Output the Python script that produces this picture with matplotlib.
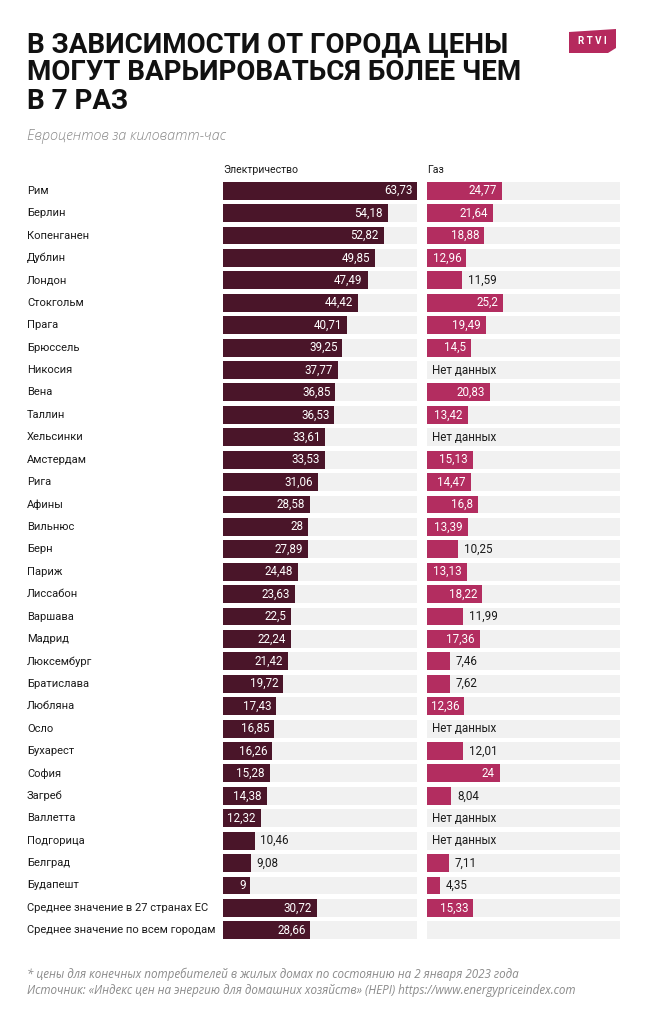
import numpy as np
import matplotlib
matplotlib.use("Agg")
import matplotlib.pyplot as plt
from matplotlib.patches import Polygon
from matplotlib.transforms import blended_transform_factory

# Data (euro cents per kWh)
cities = [
    "Рим", "Берлин", "Копенганен", "Дублин", "Лондон", "Стокгольм", "Прага",
    "Брюссель", "Никосия", "Вена", "Таллин", "Хельсинки", "Амстердам", "Рига",
    "Афины", "Вильнюс", "Берн", "Париж", "Лиссабон", "Варшава", "Мадрид",
    "Люксембург", "Братислава", "Любляна", "Осло", "Бухарест", "София",
    "Загреб", "Валлетта", "Подгорица", "Белград", "Будапешт",
    "Среднее значение в 27 странах ЕС", "Среднее значение по всем городам",
]
electricity = [
    63.73, 54.18, 52.82, 49.85, 47.49, 44.42, 40.71, 39.25, 37.77, 36.85,
    36.53, 33.61, 33.53, 31.06, 28.58, 28, 27.89, 24.48, 23.63, 22.5, 22.24,
    21.42, 19.72, 17.43, 16.85, 16.26, 15.28, 14.38, 12.32, 10.46, 9.08, 9,
    30.72, 28.66,
]
gas = [
    24.77, 21.64, 18.88, 12.96, 11.59, 25.2, 19.49, 14.5, None, 20.83,
    13.42, None, 15.13, 14.47, 16.8, 13.39, 10.25, 13.13, 18.22, 11.99, 17.36,
    7.46, 7.62, 12.36, None, 12.01, 24, 8.04, None, None, 7.11, 4.35,
    15.33, None,
]
no_gas_text_rows = ["Среднее значение по всем городам"]
elec_label_outside = ["Подгорица", "Белград"]
gas_inside_min = 12.3

title = "В ЗАВИСИМОСТИ ОТ ГОРОДА ЦЕНЫ\nМОГУТ ВАРЬИРОВАТЬСЯ БОЛЕЕ ЧЕМ\nВ 7 РАЗ"
subtitle = "Евроцентов за киловатт-час"
footer = ("* цены для конечных потребителей в жилых домах по состоянию на 2 января 2023 года\n"
          "Источник: «Индекс цен на энергию для домашних хозяйств» (HEPI) https://www.energypriceindex.com")

ELEC_COLOR = "#4a1529"
GAS_COLOR = "#b32d60"
BG_COLOR = "#f1f1f1"
TEXT_COLOR = "#1a1a1a"

W, H = 654, 1024
fig = plt.figure(figsize=(W / 100, H / 100), dpi=100)
fig.patch.set_facecolor("white")


def px_axes(x0, y0, x1, y1):
    return fig.add_axes([x0 / W, 1 - y1 / H, (x1 - x0) / W, (y1 - y0) / H])


n = len(cities)
row_top, row_bot = 179.5, 941.5
ax_e = px_axes(223, row_top, 417, row_bot)
ax_g = px_axes(427, row_top, 620, row_bot)
xmax = max(electricity)
y = np.arange(n)

for ax in (ax_e, ax_g):
    ax.set_xlim(0, xmax)
    ax.set_ylim(n - 0.5, -0.5)
    ax.axis("off")
    ax.barh(y, [xmax] * n, height=0.8, color=BG_COLOR, zorder=1)

ax_e.barh(y, electricity, height=0.8, color=ELEC_COLOR, zorder=2)
gas_vals = [v if v is not None else 0 for v in gas]
ax_g.barh(y, gas_vals, height=0.8, color=GAS_COLOR, zorder=2)


def fmt(v):
    return f"{v:g}".replace(".", ",")


lab_font = dict(family=["Roboto", "DejaVu Sans"], fontsize=8)
val_font = dict(family=["Roboto", "DejaVu Sans"], fontsize=8.4)

for i, (city, v) in enumerate(zip(cities, electricity)):
    if city in elec_label_outside:
        ax_e.annotate(fmt(v), (v, i), xytext=(4, 0), textcoords="offset points",
                      ha="left", va="center", color=TEXT_COLOR, zorder=3, **val_font)
    else:
        ax_e.annotate(fmt(v), (v, i), xytext=(-3.5, 0), textcoords="offset points",
                      ha="right", va="center", color="white", zorder=3, **val_font)

for i, (city, v) in enumerate(zip(cities, gas)):
    if v is None:
        if city not in no_gas_text_rows:
            ax_g.annotate("Нет данных", (0, i), xytext=(3.5, 0), textcoords="offset points",
                          ha="left", va="center", color=TEXT_COLOR, zorder=3, **val_font)
    elif v >= gas_inside_min:
        ax_g.annotate(fmt(v), (v, i), xytext=(-3.5, 0), textcoords="offset points",
                      ha="right", va="center", color="white", zorder=3, **val_font)
    else:
        ax_g.annotate(fmt(v), (v, i), xytext=(4, 0), textcoords="offset points",
                      ha="left", va="center", color=TEXT_COLOR, zorder=3, **val_font)

# row labels
tr = blended_transform_factory(fig.transFigure, ax_e.transData)
for i, city in enumerate(cities):
    ax_e.text(27 / W, i, city, transform=tr, ha="left", va="center",
              color=TEXT_COLOR, clip_on=False, **lab_font)

# column headers
fig.text(223 / W, 1 - 170 / H, "Электричество", ha="left", va="center",
         color=TEXT_COLOR, family=["Roboto", "DejaVu Sans"], fontsize=7.6)
fig.text(427 / W, 1 - 170 / H, "Газ", ha="left", va="center",
         color=TEXT_COLOR, family=["Roboto", "DejaVu Sans"], fontsize=7.6)

# title, subtitle, footer
fig.text(27 / W, 1 - 31 / H, title, ha="left", va="top", color="#111111",
         family=["Roboto", "DejaVu Sans"], fontweight="bold", fontsize=20,
         linespacing=1.06)
fig.text(27 / W, 1 - 137 / H, subtitle, ha="left", va="center", color="#8a8a8a",
         family=["Open Sans", "DejaVu Sans"], style="italic", fontweight="light",
         fontsize=10.4)
fig.text(27 / W, 1 - 982.5 / H, footer, ha="left", va="center", color="#8a8a8a",
         family=["Open Sans", "DejaVu Sans"], style="italic", fontsize=8.4,
         linespacing=1.3)

# logo
logo_pts = [(569, 32), (616, 29), (616, 48), (608, 53), (569, 53)]
logo = Polygon([(x / W, 1 - yy / H) for x, yy in logo_pts], closed=True,
               transform=fig.transFigure, facecolor="#b5295d", edgecolor="none")
fig.patches.append(logo)
fig.text(592.5 / W, 1 - 41.5 / H, "R T V I", ha="center", va="center", color="white",
         family=["Roboto", "DejaVu Sans"], fontweight="bold", fontsize=7)

fig.savefig("out.png", dpi=100, facecolor="white")
